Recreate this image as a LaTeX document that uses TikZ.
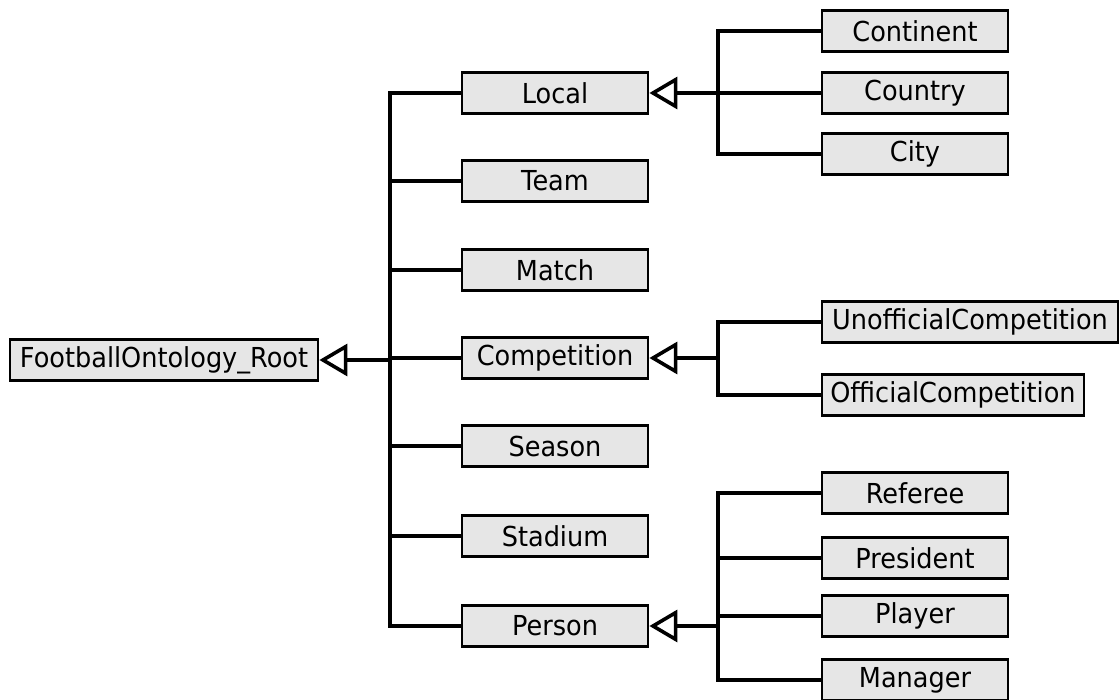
\documentclass[tikz,border=0pt]{standalone}
\usepackage{fontspec}
\setmainfont{DejaVu Sans}[FakeStretch=0.93]
\usetikzlibrary{arrows.meta}
\definecolor{boxgray}{HTML}{E6E6E6}
\begin{document}
\begin{tikzpicture}[x=1pt,y=-1pt,
  cls/.style={draw=black, line width=2.8pt, fill=boxgray, minimum height=41pt,
    inner sep=0pt, font=\fontsize{27.5}{30}\selectfont},
  lvl/.style={cls, minimum width=186pt},
  link/.style={line width=3.8pt, line join=miter},
  gen/.style={link, -{Triangle[open, length=28pt, width=32pt, line width=3.6pt]}}
]
\useasboundingbox (0,0) rectangle (1119,700);

% root class
\node[cls, minimum width=308pt] (root) at (164,360) {FootballOntology\_Root};

% first level
\node[lvl] (local)       at (555,93)  {Local};
\node[lvl] (team)        at (555,181) {Team};
\node[lvl] (match)       at (555,270) {Match};
\node[lvl] (competition) at (555,358) {Competition};
\node[lvl] (season)      at (555,446) {Season};
\node[lvl] (stadium)     at (555,536) {Stadium};
\node[lvl] (person)      at (555,626) {Person};

% second level
\node[lvl] (continent) at (915,31)  {Continent};
\node[lvl] (country)   at (915,93)  {Country};
\node[lvl] (city)      at (915,154) {City};
\node[cls, minimum width=296pt] (unoff) at (970,322) {UnofficialCompetition};
\node[cls, minimum width=262pt] (off)   at (953,395) {OfficialCompetition};
\node[lvl] (referee)   at (915,493) {Referee};
\node[lvl] (president) at (915,558) {President};
\node[lvl] (player)    at (915,616) {Player};
\node[lvl] (manager)   at (915,680) {Manager};

% junctions
\coordinate (jr) at (390,360);
\coordinate (jl) at (718,93);
\coordinate (jc) at (718,358);
\coordinate (jp) at (718,626);

% root hierarchy
\draw[link] (local.west) -| (jr) |- (person.west);
\foreach \n in {team,match,competition,season,stadium}
  \draw[link] (\n.west) -- (\n.west -| jr);
\draw[gen] (jr) -- (root.east);

% Local hierarchy
\draw[link] (continent.west) -| (jl) |- (city.west);
\draw[link] (country.west) -- (jl);
\draw[gen] (jl) -- (local.east);

% Competition hierarchy
\draw[link] (unoff.west) -| (jc) |- (off.west);
\draw[gen] (jc) -- (competition.east);

% Person hierarchy
\draw[link] (referee.west) -| (jp) |- (manager.west);
\foreach \n in {president,player}
  \draw[link] (\n.west) -- (\n.west -| jp);
\draw[gen] (jp) -- (person.east);
\end{tikzpicture}
\end{document}
